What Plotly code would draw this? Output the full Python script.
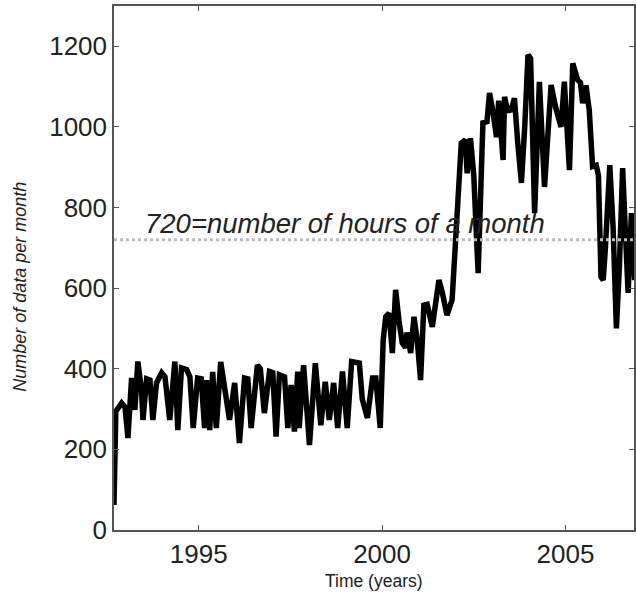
import plotly.graph_objects as go

# Time (decimal years) and number of data per month
years = [1992.69, 1992.74, 1992.90, 1992.99, 1993.07, 1993.17, 1993.26, 1993.34, 1993.44, 1993.48,
         1993.58, 1993.67, 1993.75, 1993.85, 1993.99, 1994.08, 1994.21, 1994.35, 1994.43, 1994.53,
         1994.67, 1994.76, 1994.85, 1994.97, 1995.07, 1995.16, 1995.21, 1995.30, 1995.38, 1995.48,
         1995.60, 1995.71, 1995.84, 1995.98, 1996.11, 1996.25, 1996.34, 1996.43, 1996.60, 1996.68,
         1996.79, 1996.93, 1997.02, 1997.11, 1997.20, 1997.34, 1997.43, 1997.52, 1997.61, 1997.70,
         1997.74, 1997.86, 1998.02, 1998.18, 1998.33, 1998.45, 1998.56, 1998.68, 1998.79, 1998.92,
         1999.05, 1999.17, 1999.38, 1999.46, 1999.60, 1999.74, 1999.83, 1999.95, 2000.03, 2000.10,
         2000.19, 2000.28, 2000.37, 2000.46, 2000.55, 2000.64, 2000.68, 2000.78, 2000.87, 2000.96,
         2001.05, 2001.14, 2001.23, 2001.37, 2001.55, 2001.64, 2001.77, 2001.91, 2002.00, 2002.14,
         2002.16, 2002.27, 2002.32, 2002.41, 2002.50, 2002.62, 2002.75, 2002.86, 2002.93, 2003.02,
         2003.12, 2003.18, 2003.30, 2003.34, 2003.42, 2003.52, 2003.61, 2003.70, 2003.80, 2003.89,
         2003.98, 2004.05, 2004.16, 2004.29, 2004.43, 2004.61, 2004.73, 2004.88, 2004.97, 2005.11,
         2005.20, 2005.33, 2005.41, 2005.47, 2005.56, 2005.65, 2005.74, 2005.84, 2005.90, 2005.97,
         2006.03, 2006.09, 2006.21, 2006.30, 2006.39, 2006.47, 2006.56, 2006.63, 2006.71, 2006.80,
         2006.89, 2006.98]
counts = [62, 294, 315, 305, 228, 377, 298, 418, 347, 273,
          375, 372, 273, 365, 390, 380, 273, 418, 248, 402,
          398, 380, 253, 377, 375, 253, 372, 248, 392, 253,
          417, 340, 273, 365, 216, 377, 375, 253, 409, 400,
          290, 393, 390, 232, 385, 380, 253, 360, 244, 393,
          253, 409, 211, 414, 260, 368, 273, 365, 253, 393,
          253, 418, 414, 325, 278, 377, 377, 253, 470, 529,
          538, 439, 596, 520, 464, 452, 490, 439, 529, 470,
          372, 558, 560, 504, 620, 590, 533, 571, 700, 951,
          960, 968, 885, 972, 880, 637, 1010, 1013, 1084, 1040,
          975, 1065, 918, 1075, 1040, 1042, 1071, 960, 861, 1000,
          1179, 1170, 786, 1112, 851, 1104, 1050, 1000, 1112, 893,
          1158, 1117, 1110, 1059, 1103, 1042, 902, 905, 880, 628,
          620, 700, 905, 750, 500, 650, 898, 750, 588, 786,
          620, 780]

HOURS_PER_MONTH = 720
ref_label = "720=number of hours of a month"
x_title = "Time (years)"
y_title = "Number of data per month"
x_ticks = [1995, 2000, 2005]
y_ticks = [0, 200, 400, 600, 800, 1000, 1200]

FONT = "Liberation Sans, Arial, sans-serif"

fig = go.Figure()
fig.add_trace(go.Scatter(x=years, y=counts, mode="lines",
                         line=dict(color="black", width=5.5), showlegend=False))

fig.add_hline(y=HOURS_PER_MONTH, line=dict(color="#bdbdbd", width=3, dash="dot"), layer="above")

fig.add_annotation(x=0.055, xref="paper", y=HOURS_PER_MONTH, yref="y", yshift=-1,
                   text="<i>" + ref_label + "</i>", showarrow=False, xanchor="left", yanchor="bottom",
                   font=dict(family=FONT, size=27.5, color="#222"))
fig.add_annotation(x=-0.18, xref="paper", y=0.465, yref="paper", text="<i>" + y_title + "</i>",
                   textangle=-90, showarrow=False, xanchor="center", yanchor="middle",
                   font=dict(family=FONT, size=18, color="#222"))
fig.add_annotation(x=0.5, xref="paper", y=-0.097, yref="paper", text=x_title,
                   showarrow=False, xanchor="center", yanchor="middle",
                   font=dict(family=FONT, size=17.5, color="#222"))

axis_common = dict(showgrid=False, zeroline=False, showline=True, linecolor="#555", linewidth=1.5,
                   ticks="inside", ticklen=5, tickcolor="#555", mirror="ticks",
                   tickfont=dict(family=FONT, size=26, color="#222"))
fig.update_xaxes(range=[1992.69, 2006.87], tickvals=x_ticks, **axis_common)
fig.update_yaxes(range=[0, 1300], tickvals=y_ticks, **axis_common)

fig.update_layout(width=636, height=604, margin=dict(l=114, r=0, t=6, b=74),
                  plot_bgcolor="white", paper_bgcolor="white",
                  font=dict(family=FONT, color="#222"))

fig.write_html("out.html")
